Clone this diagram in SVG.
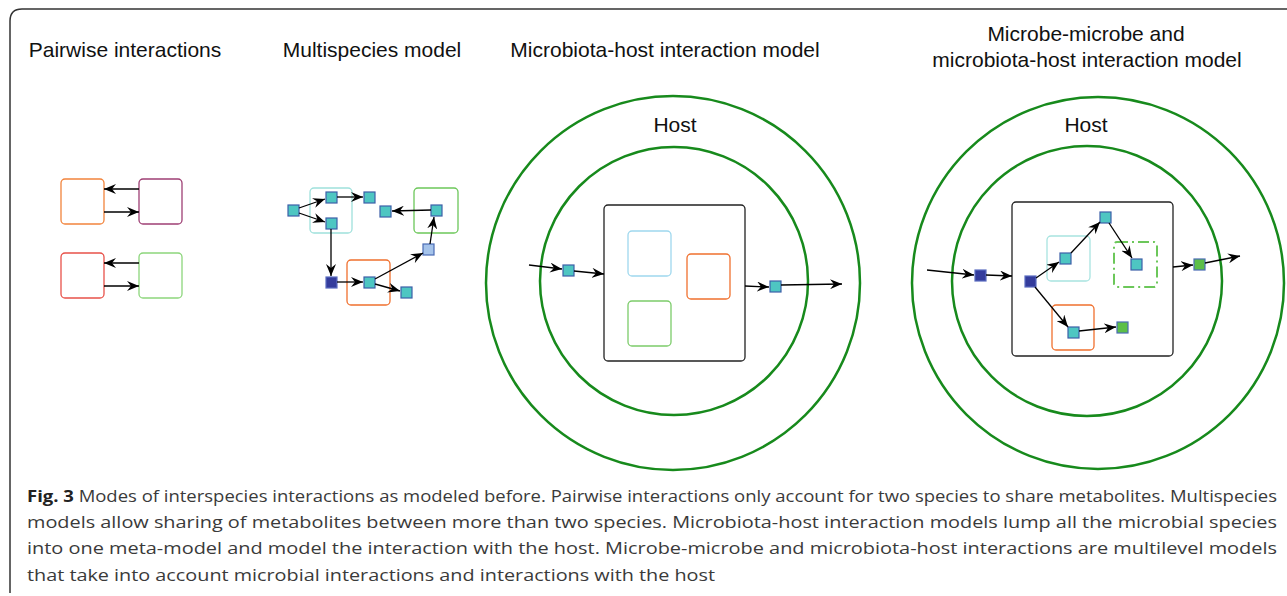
<svg xmlns="http://www.w3.org/2000/svg" width="1287" height="596" viewBox="0 0 1287 596">
<style>
.title{font-family:"Liberation Sans",Arial,sans-serif;font-size:21px;fill:#111;text-anchor:middle}
.cap{font-family:"Open Sans","Noto Sans",sans-serif;font-size:16.5px;fill:#3a3a3a}
.box{fill:none;stroke-width:1.3}
.circ{fill:none;stroke:#178a1c;stroke-width:2.5}
.sq{fill:#4ec6c2;stroke:#3d5fa8;stroke-width:1.2}
.dk{fill:#343c9c;stroke:#5a6cc0;stroke-width:1.2}
.lb{fill:#a5c3ea;stroke:#4a6cb4;stroke-width:1.2}
.gr{fill:#5cbf48;stroke:#4a6cb4;stroke-width:1.2}
.ar{fill:none;stroke:#000;stroke-width:1.3;marker-end:url(#ah)}
</style>
<defs>
<marker id="ah" viewBox="0 0 12 10" refX="12" refY="5" markerWidth="12" markerHeight="10" markerUnits="userSpaceOnUse" orient="auto">
<path d="M0,0 L12,5 L0,10 L4,5 Z" fill="#000"/>
</marker>
</defs>
<rect width="1287" height="596" fill="#fff"/>
<path d="M10,593 L10,21 Q10,9 22,9 L1287,9" fill="none" stroke="#333" stroke-width="1.5"/>

<g id="titles">
<text class="title" x="125" y="57">Pairwise interactions</text>
<text class="title" x="372" y="57">Multispecies model</text>
<text class="title" x="665" y="57">Microbiota-host interaction model</text>
<text class="title" x="1086" y="41">Microbe-microbe and</text>
<text class="title" x="1087" y="67">microbiota-host interaction model</text>
</g>

<!-- Panel 1 -->
<g id="p1-orange"><rect class="box" x="61" y="179" width="43" height="45" rx="4" stroke="#f2843c"/></g>
<g id="p1-purple"><rect class="box" x="139" y="179" width="43" height="45" rx="4" stroke="#9e3f74"/></g>
<g id="p1-red"><rect class="box" x="61" y="253" width="43" height="45" rx="4" stroke="#e8524a"/></g>
<g id="p1-green"><rect class="box" x="139" y="253" width="43" height="45" rx="4" stroke="#8dd67c"/></g>

<!-- Panel 2 -->
<g id="p2-cyanbox"><rect class="box" x="310" y="188" width="42" height="45" rx="4" stroke="#9fe1dc"/></g>
<g id="p2-greenbox"><rect class="box" x="414" y="188" width="44" height="45" rx="4" stroke="#6cc75a"/></g>
<g id="p2-orangebox"><rect class="box" x="347" y="260" width="43" height="45" rx="4" stroke="#f0702e"/></g>
<g id="p2-s1"><rect class="sq" x="288" y="205" width="11" height="11"/></g>
<g id="p2-s2"><rect class="sq" x="326" y="192" width="11" height="11"/></g>
<g id="p2-s3"><rect class="sq" x="326" y="218" width="11" height="11"/></g>
<g id="p2-s4"><rect class="sq" x="364" y="192" width="11" height="11"/></g>
<g id="p2-s5"><rect class="sq" x="380" y="206" width="11" height="11"/></g>
<g id="p2-s6"><rect class="sq" x="431" y="205" width="11" height="11"/></g>
<g id="p2-s7"><rect class="lb" x="423" y="244" width="11" height="11"/></g>
<g id="p2-s8"><rect class="dk" x="326" y="277" width="11" height="11"/></g>
<g id="p2-s9"><rect class="sq" x="364" y="277" width="11" height="11"/></g>
<g id="p2-s10"><rect class="sq" x="401" y="287" width="11" height="11"/></g>

<!-- Panel 3 -->
<g id="p3-host">
<circle class="circ" cx="673" cy="283" r="187"/>
<circle class="circ" cx="674" cy="281" r="134"/>
<text class="title" x="675" y="132">Host</text>
</g>
<g id="p3-meta"><rect class="box" x="604" y="205" width="141" height="156" rx="4" stroke="#222"/></g>
<g id="p3-blue"><rect class="box" x="628" y="231" width="43" height="45" rx="4" stroke="#9fd8ee"/></g>
<g id="p3-orange"><rect class="box" x="687" y="254" width="43" height="45" rx="4" stroke="#f0702e"/></g>
<g id="p3-green"><rect class="box" x="628" y="301" width="43" height="45" rx="4" stroke="#7ccc6a"/></g>
<g id="p3-sq-in"><rect class="sq" x="563" y="265" width="11" height="11"/></g>
<g id="p3-sq-out"><rect class="sq" x="770" y="281" width="11" height="11"/></g>

<!-- Panel 4 -->
<g id="p4-host">
<circle class="circ" cx="1098" cy="283" r="186"/>
<circle class="circ" cx="1087" cy="281" r="135"/>
<text class="title" x="1086" y="132">Host</text>
</g>
<g id="p4-meta"><rect class="box" x="1012" y="202" width="161" height="154" rx="4" stroke="#222"/></g>
<g id="p4-cyan"><rect class="box" x="1047" y="236" width="43" height="45" rx="4" stroke="#a8e4e0"/></g>
<g id="p4-greendash"><rect x="1114" y="242" width="43" height="45" rx="3" fill="none" stroke="#6cc75a" stroke-width="2" stroke-dasharray="11,4,2,4"/></g>
<g id="p4-orange"><rect class="box" x="1052" y="305" width="42" height="45" rx="4" stroke="#f0702e"/></g>
<g id="p4-dk-out"><rect class="dk" x="975" y="270" width="11" height="11"/></g>
<g id="p4-dk-in"><rect class="dk" x="1025" y="276" width="11" height="11"/></g>
<g id="p4-s-cyan"><rect class="sq" x="1060" y="253" width="11" height="11"/></g>
<g id="p4-s-top"><rect class="sq" x="1100" y="212" width="11" height="11"/></g>
<g id="p4-s-dash"><rect class="sq" x="1131" y="259" width="11" height="11"/></g>
<g id="p4-s-orange"><rect class="sq" x="1068" y="327" width="11" height="11"/></g>
<g id="p4-g-in"><rect class="gr" x="1117" y="322" width="11" height="11"/></g>
<g id="p4-g-out"><rect class="gr" x="1194" y="259" width="11" height="11"/></g>

<g id="connectors">
<line class="ar" x1="139" y1="189" x2="104" y2="189"/>
<line class="ar" x1="104" y1="212" x2="139" y2="212"/>
<line class="ar" x1="139" y1="263" x2="104" y2="263"/>
<line class="ar" x1="104" y1="286" x2="139" y2="286"/>

<line class="ar" x1="299" y1="208" x2="325" y2="199"/>
<line class="ar" x1="299" y1="213" x2="325" y2="222"/>
<line class="ar" x1="337" y1="197" x2="363" y2="197"/>
<line class="ar" x1="431" y1="210" x2="392" y2="211"/>
<line class="ar" x1="331" y1="229" x2="331" y2="276"/>
<line class="ar" x1="337" y1="282" x2="363" y2="282"/>
<line class="ar" x1="375" y1="279" x2="423" y2="253"/>
<line class="ar" x1="375" y1="284" x2="400" y2="291"/>
<line class="ar" x1="430" y1="244" x2="434" y2="217"/>

<line class="ar" x1="529" y1="265" x2="562" y2="269"/>
<line class="ar" x1="574" y1="271" x2="604" y2="274"/>
<line class="ar" x1="745" y1="286" x2="769" y2="287"/>
<line class="ar" x1="781" y1="285" x2="842" y2="284"/>

<line class="ar" x1="927" y1="270" x2="974" y2="275"/>
<line class="ar" x1="986" y1="275" x2="1012" y2="276"/>
<line class="ar" x1="1036" y1="278" x2="1059" y2="262"/>
<line class="ar" x1="1071" y1="253" x2="1100" y2="222"/>
<line class="ar" x1="1109" y1="223" x2="1132" y2="258"/>
<line class="ar" x1="1035" y1="287" x2="1068" y2="327"/>
<line class="ar" x1="1079" y1="331" x2="1116" y2="327"/>
<line class="ar" x1="1173" y1="267" x2="1193" y2="265"/>
<line class="ar" x1="1205" y1="263" x2="1240" y2="256"/>
</g>

<g id="caption">
<text class="cap" x="27" y="502" textLength="1250" lengthAdjust="spacingAndGlyphs"><tspan font-weight="bold" fill="#222">Fig. 3</tspan> Modes of interspecies interactions as modeled before. Pairwise interactions only account for two species to share metabolites. Multispecies</text>
<text class="cap" x="27" y="528" textLength="1250" lengthAdjust="spacingAndGlyphs">models allow sharing of metabolites between more than two species. Microbiota-host interaction models lump all the microbial species</text>
<text class="cap" x="27" y="554" textLength="1250" lengthAdjust="spacingAndGlyphs">into one meta-model and model the interaction with the host. Microbe-microbe and microbiota-host interactions are multilevel models</text>
<text class="cap" x="27" y="581" textLength="688" lengthAdjust="spacingAndGlyphs">that take into account microbial interactions and interactions with the host</text>
</g>
</svg>
